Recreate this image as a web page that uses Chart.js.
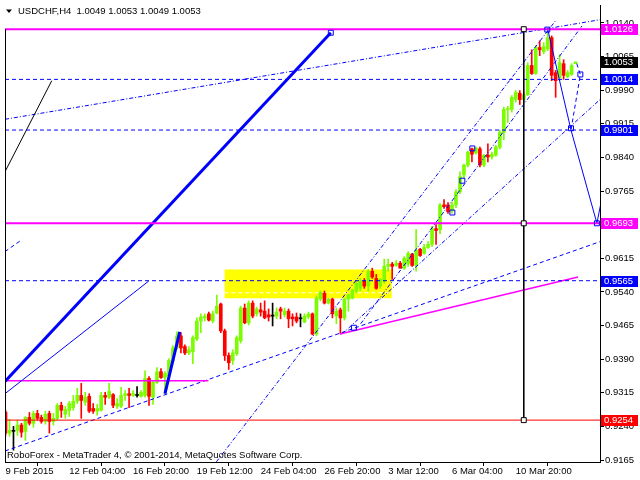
<!DOCTYPE html>
<html><head><meta charset="utf-8">
<script src="https://cdn.jsdelivr.net/npm/chart.js@4.4.1/dist/chart.umd.min.js"></script>
<style>html,body{margin:0;padding:0;background:#fff;}canvas{display:block;}</style>
</head><body>
<canvas id="c" width="640" height="480"></canvas>
<script>
// ---------------- DATA ----------------
const symbolTitle = "USDCHF,H4  1.0049 1.0053 1.0049 1.0053";
const footerText = "RoboForex - MetaTrader 4, \u00A9 2001-2014, MetaQuotes Software Corp.";
const xTickLabels = ["9 Feb 2015","12 Feb 04:00","16 Feb 20:00","19 Feb 12:00","24 Feb 04:00","26 Feb 20:00","3 Mar 12:00","6 Mar 04:00","10 Mar 20:00"];
const xTickStep = 16;
const yTicks = [0.9165,0.9240,0.9315,0.9390,0.9465,0.9540,0.9615,0.9690,0.9765,0.9840,0.9915,0.9990,1.0065,1.0140];

const opens = [0.9272,0.9225,0.9229,0.9231,0.9243,0.9229,0.9260,0.9247,0.9269,0.9260,
0.9251,0.9269,0.9251,0.9258,0.9287,0.9267,0.9276,0.9282,0.9296,0.9309,
0.9294,0.9307,0.9280,0.9274,0.9276,0.9309,0.9305,0.9311,0.9285,0.9285,
0.9309,0.9313,0.9309,0.9309,0.9307,0.9309,0.9347,0.9305,0.9338,0.9362,
0.9349,0.9353,0.9387,0.9415,0.9442,0.9418,0.9404,0.9407,0.9435,0.9475,
0.9482,0.9491,0.9475,0.9493,0.9513,0.9453,0.9398,0.9387,0.9402,0.9431,
0.9504,0.9471,0.9515,0.9491,0.9500,0.9497,0.9489,0.9486,0.9486,0.9502,
0.9489,0.9497,0.9484,0.9484,0.9480,0.9473,0.9484,0.9491,0.9446,0.9524,
0.9537,0.9515,0.9524,0.9486,0.9500,0.9482,0.9524,0.9526,0.9542,0.9548,
0.9564,0.9553,0.9586,0.9570,0.9553,0.9564,0.9597,0.9602,0.9599,0.9604,
0.9593,0.9602,0.9624,0.9599,0.9635,0.9626,0.9639,0.9646,0.9681,0.9679,
0.9734,0.9734,0.9721,0.9734,0.9763,0.9801,0.9823,0.9859,0.9850,0.9859,
0.9823,0.9845,0.9841,0.9845,0.9863,0.9896,0.9947,0.9947,0.9969,0.9983,
0.9969,0.9980,1.0045,1.0027,1.0085,1.0076,1.0082,1.0107,1.0029,1.0018,
1.0049,1.0020,1.0025,1.0049];
const highs = [0.9276,0.9256,0.9240,0.9254,0.9247,0.9262,0.9271,0.9274,0.9276,0.9265,
0.9274,0.9274,0.9269,0.9291,0.9294,0.9285,0.9296,0.9309,0.9325,0.9336,
0.9316,0.9313,0.9291,0.9289,0.9316,0.9316,0.9336,0.9313,0.9302,0.9327,
0.9320,0.9325,0.9320,0.9329,0.9320,0.9364,0.9351,0.9342,0.9371,0.9369,
0.9362,0.9391,0.9420,0.9451,0.9449,0.9422,0.9418,0.9442,0.9482,0.9491,
0.9491,0.9495,0.9497,0.9533,0.9515,0.9457,0.9404,0.9411,0.9442,0.9508,
0.9513,0.9520,0.9520,0.9506,0.9515,0.9520,0.9502,0.9515,0.9504,0.9506,
0.9504,0.9502,0.9491,0.9493,0.9491,0.9491,0.9495,0.9493,0.9531,0.9542,
0.9542,0.9526,0.9526,0.9504,0.9504,0.9526,0.9535,0.9546,0.9564,0.9570,
0.9570,0.9590,0.9593,0.9579,0.9570,0.9613,0.9613,0.9606,0.9610,0.9608,
0.9619,0.9630,0.9626,0.9679,0.9637,0.9646,0.9652,0.9686,0.9690,0.9737,
0.9746,0.9739,0.9741,0.9768,0.9808,0.9825,0.9854,0.9861,0.9863,0.9863,
0.9847,0.9870,0.9852,0.9867,0.9901,0.9952,0.9954,0.9978,0.9989,0.9989,
0.9985,1.0051,1.0080,1.0089,1.0100,1.0096,1.0126,1.0111,1.0034,1.0069,
1.0058,1.0034,1.0049,1.0053];
const lows = [0.9218,0.9218,0.9187,0.9220,0.9216,0.9209,0.9243,0.9238,0.9254,0.9247,
0.9245,0.9225,0.9243,0.9254,0.9260,0.9258,0.9262,0.9276,0.9291,0.9258,
0.9287,0.9271,0.9269,0.9265,0.9274,0.9289,0.9302,0.9282,0.9280,0.9282,
0.9298,0.9282,0.9307,0.9305,0.9305,0.9305,0.9287,0.9289,0.9336,0.9347,
0.9313,0.9342,0.9382,0.9413,0.9404,0.9400,0.9400,0.9380,0.9431,0.9449,
0.9475,0.9475,0.9471,0.9491,0.9449,0.9387,0.9367,0.9378,0.9398,0.9426,
0.9469,0.9466,0.9482,0.9486,0.9486,0.9480,0.9475,0.9464,0.9480,0.9480,
0.9484,0.9460,0.9464,0.9471,0.9462,0.9471,0.9480,0.9444,0.9442,0.9520,
0.9513,0.9513,0.9482,0.9469,0.9446,0.9477,0.9497,0.9524,0.9537,0.9542,
0.9548,0.9542,0.9570,0.9546,0.9548,0.9559,0.9586,0.9568,0.9597,0.9593,
0.9590,0.9597,0.9597,0.9586,0.9619,0.9624,0.9637,0.9641,0.9646,0.9670,
0.9726,0.9715,0.9715,0.9728,0.9759,0.9792,0.9819,0.9830,0.9847,0.9819,
0.9819,0.9830,0.9836,0.9843,0.9859,0.9879,0.9918,0.9941,0.9963,0.9958,
0.9963,0.9978,1.0025,1.0025,1.0067,1.0071,1.0078,1.0011,0.9974,1.0011,
1.0014,1.0018,1.0023,1.0049];
const closes = [0.9225,0.9231,0.9229,0.9243,0.9227,0.9260,0.9247,0.9269,0.9258,0.9251,
0.9267,0.9251,0.9258,0.9287,0.9276,0.9278,0.9291,0.9296,0.9309,0.9298,
0.9305,0.9274,0.9274,0.9280,0.9309,0.9305,0.9318,0.9287,0.9291,0.9309,
0.9313,0.9309,0.9313,0.9309,0.9316,0.9347,0.9307,0.9338,0.9362,0.9349,
0.9358,0.9387,0.9415,0.9442,0.9415,0.9404,0.9411,0.9438,0.9475,0.9484,
0.9486,0.9477,0.9491,0.9508,0.9453,0.9398,0.9382,0.9404,0.9438,0.9504,
0.9471,0.9515,0.9486,0.9502,0.9495,0.9482,0.9484,0.9486,0.9495,0.9497,
0.9497,0.9480,0.9480,0.9475,0.9480,0.9486,0.9491,0.9446,0.9526,0.9539,
0.9515,0.9524,0.9491,0.9497,0.9482,0.9524,0.9533,0.9544,0.9559,0.9564,
0.9553,0.9586,0.9573,0.9548,0.9568,0.9597,0.9602,0.9597,0.9604,0.9593,
0.9615,0.9626,0.9599,0.9633,0.9621,0.9639,0.9646,0.9681,0.9677,0.9734,
0.9730,0.9719,0.9734,0.9763,0.9797,0.9823,0.9852,0.9847,0.9861,0.9823,
0.9845,0.9841,0.9847,0.9863,0.9896,0.9947,0.9949,0.9974,0.9985,0.9969,
0.9980,1.0045,1.0027,1.0085,1.0080,1.0087,1.0107,1.0023,1.0011,1.0051,
1.0023,1.0029,1.0045,1.0053];

// Horizontal levels (prices)
const magentaLevels = [1.0126, 0.9693];
const blueLevels = [1.0014, 0.9901, 0.9565];
const redLevels = [0.9254];
const markedPrices = [1.0126, 1.0053, 1.0014, 0.9901, 0.9693, 0.9565, 0.9254];
const frameTopPrice = 1.0126;

// Objects in (bar index, price)
const yellowBox = {from: 54.9, to: 96.9, top: 0.9590, bottom: 0.9526};
const whiteDashLine = [[54.9, 0.9538], [96.9, 0.9538]];
const thickLine = [[-0.125, 0.9340], [81.6, 1.0118]];
const thickShort = [[40, 0.9313], [43.7, 0.9451]];
const thinBlueLine = [[-0.125, 0.9313], [35.9, 0.9564]];
const blackLine = [[-0.125, 0.9808], [11.6, 1.0011]];
const magentaFlat = [[-0.125, 0.9342], [50.9, 0.9342]];
const topTrend = [[-0.125, 0.9925], [149.125, 1.0147]];
const lowerChannel = [[-0.125, 0.9185], [149.125, 0.9652]];
const magentaSlope = [[83.9, 0.9446], [143.6, 0.9573]];
const steepP = [[52.9, 0.9161], [137.9, 1.0144]];
const steepQ = [[84.4, 0.9446], [149.125, 0.9969]];
const steepC = [[89.1, 0.9469], [144.6, 1.0133]];
const leftShort = [[-0.125, 0.9630], [4.2, 0.9657]];
const forecastSolid = [[136, 1.0126], [141.85, 0.9901], [148.35, 0.9693], [150.5, 0.9790]];
const forecastDashed = [[143.3, 1.0049], [144.2, 1.0025], [141.85, 0.9901]];
const verticalLine = [[130, 1.0126], [130, 0.9254]];
const blueAnchors = [[81.6,1.0118],[117.1,0.9860],[114.6,0.9788],[112.1,0.9717],[135.9,1.0125],[144.2,1.0025],[141.85,0.9905],[148.35,0.9693],[87.4,0.9460]];
const blackAnchors = [[130,1.0126],[130,0.9693],[130,0.9254]];

// ---------------- CHART ----------------
const FONT = "'Liberation Sans', Arial, sans-serif";
Chart.defaults.font.family = FONT;
Chart.defaults.font.size = 9.5;
const X_MIN = -0.125, X_MAX = 149.125;
const Y_MIN = 0.91606, Y_MAX = 1.01799;

const BULL = '#7CFC00', BEAR = '#FF0000', DOJI = '#000000';
const BLUE = '#0000FF', MAG = '#FF00FF';
const candleColor = (i) => closes[i] > opens[i] ? BULL : (closes[i] < opens[i] ? BEAR : DOJI);

const idx = opens.map((_, i) => i);
const pts = arr => arr.map(([x, y]) => ({x, y}));
function lineDs(points, color, width, dash, order) {
  return {type: 'line', data: pts(points), borderColor: color, borderWidth: width,
    borderDash: dash || [], pointRadius: 0, fill: false, tension: 0, order: order ?? 2};
}
const DASH = [4, 3];
const DASHDOT = [4, 2, 1, 2];

const datasets = [];
datasets.push({type: 'line', data: pts([[yellowBox.from, yellowBox.top], [yellowBox.to, yellowBox.top]]),
  borderWidth: 0, pointRadius: 0, backgroundColor: '#FFFF00', fill: {value: yellowBox.bottom}, order: 20});
datasets.push(lineDs(whiteDashLine, '#FFFFFF', 1, [4, 3], 19));
datasets.push({type: 'bar', data: idx.map(i => ({x: i, y: [lows[i], highs[i]]})),
  backgroundColor: idx.map(candleColor), barThickness: 1, grouped: false, order: 11});
datasets.push({type: 'bar', data: idx.map(i => ({x: i, y: [opens[i], closes[i]]})),
  backgroundColor: idx.map(candleColor), barThickness: 3, minBarLength: 1, grouped: false, order: 10});
magentaLevels.forEach(v => datasets.push(lineDs([[X_MIN, v], [X_MAX, v]], MAG, 2, [], 3)));
blueLevels.forEach(v => datasets.push(lineDs([[X_MIN, v], [X_MAX, v]], BLUE, 1, DASH, 4)));
redLevels.forEach(v => datasets.push(lineDs([[X_MIN, v], [X_MAX, v]], '#FF0000', 1, [], 4)));
datasets.push(lineDs(thickLine, BLUE, 3, [], 3));
datasets.push(lineDs(thickShort, BLUE, 3, [], 3));
datasets.push(lineDs(thinBlueLine, BLUE, 1, [], 4));
datasets.push(lineDs(blackLine, '#000000', 1, [], 4));
datasets.push(lineDs(magentaFlat, MAG, 1.5, [], 4));
datasets.push(lineDs(topTrend, BLUE, 1, DASHDOT, 4));
datasets.push(lineDs(lowerChannel, BLUE, 1, DASH, 4));
datasets.push(lineDs(magentaSlope, MAG, 1.5, [], 4));
datasets.push(lineDs(steepP, BLUE, 1, DASHDOT, 4));
datasets.push(lineDs(steepQ, BLUE, 1, DASHDOT, 4));
datasets.push(lineDs(steepC, BLUE, 1, DASHDOT, 4));
datasets.push(lineDs(leftShort, BLUE, 1, DASH, 4));
datasets.push(lineDs(forecastSolid, BLUE, 1, [], 3));
datasets.push(lineDs(forecastDashed, BLUE, 1, DASH, 3));
datasets.push(lineDs(verticalLine, '#000000', 1, [], 3));
datasets.push({type: 'line', data: pts(blueAnchors), showLine: false, pointStyle: 'rect', pointRadius: 3.5,
  pointBorderColor: BLUE, pointBackgroundColor: 'rgba(255,255,255,0)', pointBorderWidth: 1, order: 1});
datasets.push({type: 'line', data: pts(blackAnchors), showLine: false, pointStyle: 'rect', pointRadius: 3.5,
  pointBorderColor: '#000', pointBackgroundColor: '#fff', pointBorderWidth: 1, order: 1});

const markColors = {'1.0126': MAG, '1.0053': '#000000', '1.0014': BLUE, '0.9901': BLUE, '0.9693': MAG, '0.9565': BLUE, '0.9254': '#FF0000'};

const overlay = {
  id: 'overlay',
  beforeDraw(chart) {
    const ctx = chart.ctx;
    ctx.save(); ctx.fillStyle = '#fff'; ctx.fillRect(0, 0, chart.width, chart.height); ctx.restore();
  },
  afterDraw(chart) {
    const ctx = chart.ctx, ca = chart.chartArea, ys = chart.scales.y;
    ctx.save();
    ctx.strokeStyle = '#000'; ctx.lineWidth = 1;
    ctx.beginPath(); ctx.moveTo(ca.left + 0.5, ys.getPixelForValue(frameTopPrice)); ctx.lineTo(ca.left + 0.5, ca.bottom); ctx.stroke();
    ctx.fillStyle = '#000';
    ctx.beginPath(); ctx.moveTo(6, 9.5); ctx.lineTo(12, 9.5); ctx.lineTo(9, 13); ctx.closePath(); ctx.fill();
    ctx.font = "9.5px " + FONT; ctx.textBaseline = 'alphabetic'; ctx.textAlign = 'left';
    ctx.fillText(symbolTitle, 18, 14);
    ctx.fillText(footerText, 7, 458);
    markedPrices.forEach(v => {
      const y = Math.round(ys.getPixelForValue(v));
      ctx.fillStyle = markColors[v.toFixed(4)];
      ctx.fillRect(ca.right + 1, y - 5, 37, 11);
      ctx.fillStyle = '#fff'; ctx.textBaseline = 'middle';
      ctx.fillText(v.toFixed(4), ca.right + 4, y + 0.5);
    });
    ctx.restore();
  }
};

new Chart(document.getElementById('c'), {
  type: 'bar',
  data: {datasets},
  options: {
    responsive: false, animation: false, events: [],
    layout: {padding: {left: 3, top: 2, right: 0, bottom: 0}},
    plugins: {legend: {display: false}, tooltip: {enabled: false}},
    scales: {
      x: {type: 'linear', min: X_MIN, max: X_MAX, offset: false,
        grid: {drawOnChartArea: false, drawTicks: true, tickLength: 4, color: '#000'},
        border: {display: true, color: '#000'},
        afterBuildTicks: s => { s.ticks = xTickLabels.map((_, k) => ({value: k * xTickStep})); },
        ticks: {autoSkip: false, maxRotation: 0, align: 'start', padding: 0, color: '#000',
          callback: v => xTickLabels[Math.round(v / xTickStep)] ?? ''},
        afterFit: s => { s.height = 18; s.paddingLeft = 0; s.paddingRight = 0; }},
      y: {type: 'linear', position: 'right', min: Y_MIN, max: Y_MAX,
        grid: {drawOnChartArea: false, drawTicks: true, tickLength: 4, color: '#000'},
        border: {display: true, color: '#000'},
        afterBuildTicks: s => { s.ticks = yTicks.map(v => ({value: v})); },
        ticks: {padding: 1, color: '#000', callback: v => v.toFixed(4)},
        afterFit: s => { s.width = 40; s.paddingTop = 0; s.paddingBottom = 0; }}
    }
  },
  plugins: [overlay]
});
</script>
</body></html>
